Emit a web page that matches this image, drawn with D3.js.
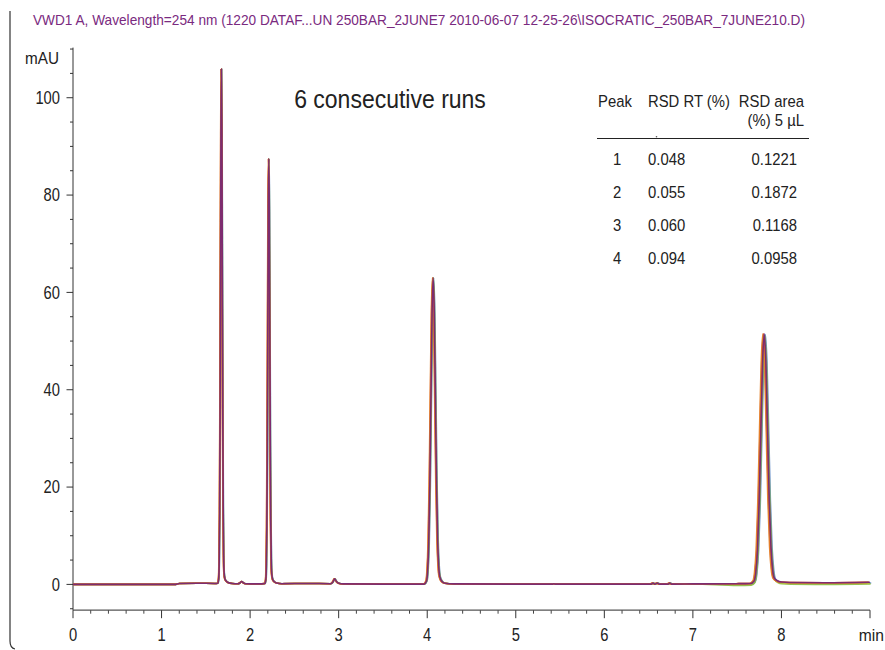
<!DOCTYPE html>
<html><head><meta charset="utf-8">
<script src="https://cdn.jsdelivr.net/npm/d3@7"></script>
<style>html,body{margin:0;padding:0;background:#fff;}</style>
</head><body>
<svg id="chart" width="885" height="650"></svg>
<script>
// ---------- DATA ----------
const titleText = "VWD1 A, Wavelength=254 nm (1220 DATAF...UN 250BAR_2JUNE7 2010-06-07 12-25-26\\ISOCRATIC_250BAR_7JUNE210.D)";
const yMajorTicks = [0, 20, 40, 60, 80, 100];
const xMajorTicks = [0, 1, 2, 3, 4, 5, 6, 7, 8];
const yUnit = "mAU";
const xUnit = "min";
const annotation = "6 consecutive runs";

// main trace (purple run): [time (min), absorbance (mAU)]
const mainTrace = [
  [0,0],[1.15,0],[1.2,0.2],[1.4,0.25],[1.6,0.2],
  [1.636,0.25],[1.646,1.4],[1.651,4.9],[1.656,14.5],[1.661,34.6],[1.666,64.4],[1.671,93.6],
  [1.676,105.9],[1.681,94.0],[1.686,65.3],[1.691,36.0],[1.696,16.0],[1.701,6.0],[1.706,2.5],
  [1.716,1.1],[1.73,0.7],[1.75,0.4],[1.8,0.2],[1.86,0.15],[1.885,0.3],[1.905,0.6],[1.925,0.3],
  [1.95,0.15],[2.1,0.1],
  [2.167,0.2],[2.178,1.1],[2.1835,4.0],[2.189,11.9],[2.1945,28.5],[2.2,53.1],[2.2055,77.2],
  [2.211,87.5],[2.2165,77.7],[2.222,54.1],[2.2275,29.9],[2.233,13.4],[2.2385,5.3],[2.244,2.3],
  [2.255,1.0],[2.27,0.6],[2.3,0.3],[2.36,0.15],[2.65,0.2],
  [2.91,0.15],[2.935,0.5],[2.955,1.15],[2.975,0.6],[3.0,0.25],[3.05,0.1],[3.5,0.05],
  [3.95,0.05],[3.967,0.1],[3.992,0.7],[4.0045,2.8],[4.017,8.5],[4.0295,20.5],[4.042,38.2],
  [4.0545,55.6],[4.067,63.0],[4.0795,55.9],[4.092,38.8],[4.1045,21.4],[4.117,9.5],[4.1295,3.8],
  [4.142,1.6],[4.167,0.6],[4.2,0.25],[4.3,0.1],
  [5.0,0.05],[5.41,0.05],[5.43,0.15],[5.45,0.05],[6.0,0.05],
  [6.53,0.05],[6.55,0.3],[6.57,0.05],[6.6,0.3],[6.62,0.05],[6.72,0.05],[6.74,0.3],[6.76,0.05],
  [7.0,0.1],[7.5,0.15],
  [7.654,0.2],[7.692,0.7],[7.711,2.4],[7.73,7.1],[7.749,16.8],[7.768,31.3],[7.787,45.4],
  [7.806,51.5],[7.825,45.6],[7.844,31.6],[7.863,17.3],[7.882,7.8],[7.901,3.1],[7.92,1.3],
  [7.958,0.7],[8.0,0.5],[8.1,0.4],[8.5,0.35],[9.0,0.45]
];

// six runs: colours, retention-time shift at ~7.8 min (min), baseline offset after 7.15 min (mAU)
const runNames   = ["Run 1", "Run 2", "Run 3", "Run 4", "Run 5", "Run 6"];
const runColors  = ["#5b86c5", "#8dbb3c", "#e5c025", "#cf3b33", "#e48128", "#6b1f7c"];
const runShift   = [0.012, 0.006, -0.006, -0.010, -0.016, 0];
const runLateOff = [-0.15, -0.35, -0.1, 0, 0, 0];

// RSD table
const tableHeaders = ["Peak", "RSD RT (%)", "RSD area", "(%) 5 \u00b5L"];
const peakIds  = ["1", "2", "3", "4"];
const rsdRT    = ["0.048", "0.055", "0.060", "0.094"];
const rsdArea  = ["0.1221", "0.1872", "0.1168", "0.0958"];

// ---------- DRAW ----------
const SANS = "'Liberation Sans',Arial,sans-serif";
const svg = d3.select("#chart");

// text squeezed horizontally to imitate the condensed face of the source
function ntext(parent, xx, yy, txt, size, anchor, sx, fill) {
  const g = parent.append("g").attr("transform", `translate(${xx},${yy}) scale(${sx},1)`);
  g.append("text").attr("x", 0).attr("y", 0).attr("text-anchor", anchor)
    .attr("font-family", SANS).attr("font-size", size).attr("fill", fill || "#222").text(txt);
  return g;
}

const x = d3.scaleLinear().domain([0, 9]).range([73, 870]);
const y = d3.scaleLinear().domain([-5.3, 110.3]).range([610.2, 47.6]);

// left bracket line
svg.append("path").attr("d", "M10,11 L10,641 Q10,648 15,649")
  .attr("fill", "none").attr("stroke", "#333").attr("stroke-width", 1.2);

// title
svg.append("text")
  .attr("x", 33).attr("y", 25).attr("textLength", 772).attr("lengthAdjust", "spacingAndGlyphs")
  .attr("font-family", SANS).attr("font-size", 15).attr("fill", "#7a2a80")
  .text(titleText);

// y axis
const yAxis = svg.append("g");
yAxis.append("line").attr("x1", 73).attr("x2", 73).attr("y1", y(110.3)).attr("y2", y(-5.3))
  .attr("stroke", "#333").attr("stroke-width", 1);
const yMinor = d3.range(-5, 111, 5).filter(v => v % 20 !== 0);
yAxis.selectAll(".ymin").data(yMinor).enter().append("line")
  .attr("x1", 70).attr("x2", 73).attr("y1", d => y(d)).attr("y2", d => y(d))
  .attr("stroke", "#333");
yAxis.selectAll(".ymaj").data(yMajorTicks).enter().append("line")
  .attr("x1", 66.5).attr("x2", 73).attr("y1", d => y(d)).attr("y2", d => y(d))
  .attr("stroke", "#333");
yMajorTicks.forEach(v => ntext(yAxis, 60, y(v) + 6.4, String(v), 18, "end", 0.82));
ntext(svg, 59, 63.5, yUnit, 17, "end", 0.9);

// x axis
const xAxisY = y(-5.3);
const xAxis = svg.append("g");
xAxis.append("line").attr("x1", 73).attr("x2", x(9)).attr("y1", xAxisY).attr("y2", xAxisY)
  .attr("stroke", "#555").attr("stroke-width", 1.2);
const xMinor = d3.range(0, 45).map(i => i * 0.2).filter(v => Math.abs(v - Math.round(v)) > 1e-6);
xAxis.selectAll(".xmin").data(xMinor).enter().append("line")
  .attr("x1", d => x(d)).attr("x2", d => x(d)).attr("y1", xAxisY).attr("y2", xAxisY + 3.5)
  .attr("stroke", "#444");
xAxis.selectAll(".xmaj").data(xMajorTicks.concat([9])).enter().append("line")
  .attr("x1", d => x(d)).attr("x2", d => x(d)).attr("y1", xAxisY).attr("y2", xAxisY + 8)
  .attr("stroke", "#333");
xMajorTicks.forEach(v => ntext(xAxis, x(v), 641, String(v), 18, "middle", 0.82));
ntext(svg, 884, 641, xUnit, 17, "end", 0.92);

// traces
const line = d3.line().x(d => x(d[0])).y(d => y(d[1])).curve(d3.curveMonotoneX);
runNames.forEach((name, i) => {
  const pts = mainTrace.map(([t, v]) => [t + runShift[i] * t / 7.806, v + (t >= 7.15 ? runLateOff[i] : 0)]);
  svg.append("path").datum(pts).attr("d", line)
    .attr("fill", "none").attr("stroke", runColors[i])
    .attr("stroke-width", 1.6).attr("stroke-linejoin", "round")
    .attr("opacity", i === runNames.length - 1 ? 0.85 : 0.9);
});

// annotation
ntext(svg, 390, 108, annotation, 25, "middle", 0.92);

// table
const TS = 16.5, TX = 0.9;
ntext(svg, 598, 107, tableHeaders[0], TS, "start", TX);
ntext(svg, 648, 107, tableHeaders[1], TS, "start", TX);
ntext(svg, 804, 107, tableHeaders[2], TS, "end", TX);
ntext(svg, 804, 126, tableHeaders[3], TS, "end", TX);
svg.append("line").attr("x1", 597).attr("x2", 809).attr("y1", 138.5).attr("y2", 138.5)
  .attr("stroke", "#222").attr("stroke-width", 1.2);
svg.append("circle").attr("cx", 656.5).attr("cy", 136.8).attr("r", 0.8).attr("fill", "#555");
const rowY = [165, 198, 231, 264];
peakIds.forEach((p, i) => {
  ntext(svg, 617, rowY[i], p, TS, "middle", TX);
  ntext(svg, 648, rowY[i], rsdRT[i], TS, "start", TX);
  ntext(svg, 797, rowY[i], rsdArea[i], TS, "end", TX);
});
</script>
</body></html>
